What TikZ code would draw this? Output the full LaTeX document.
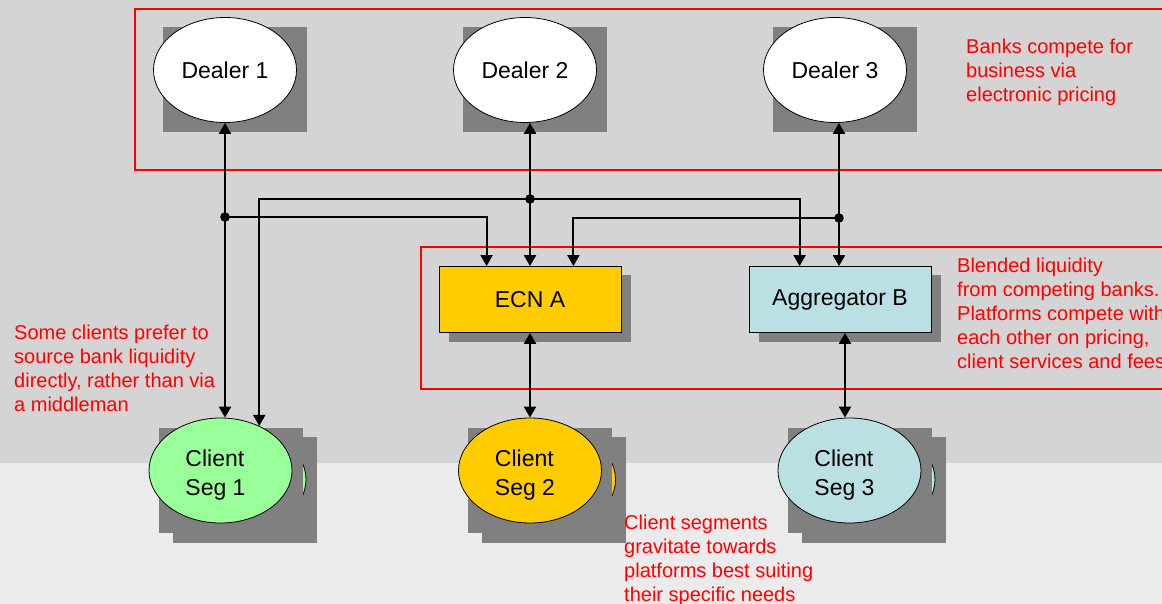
\documentclass[tikz,border=0pt]{standalone}
\usepackage{fontspec}
\setmainfont{Liberation Sans}
\usetikzlibrary{arrows.meta,shapes.geometric,calc}
\definecolor{bgtop}{HTML}{D4D4D4}
\definecolor{bgbot}{HTML}{EBEBEB}
\definecolor{shadowgray}{HTML}{808080}
\definecolor{cgreen}{HTML}{99FF99}
\definecolor{cyellow}{HTML}{FFCC00}
\definecolor{cblue}{HTML}{BBE0E3}
\definecolor{notered}{HTML}{FF0000}
\begin{document}
\begin{tikzpicture}[x=1pt,y=-1pt,
  dealer/.style={ellipse,draw=black,line width=0.8pt,fill=white,minimum width=143pt,minimum height=105pt,inner sep=0pt,font=\fontsize{23}{28}\selectfont},
  client/.style={dealer},
  clienttext/.style={align=left,inner sep=0pt,xshift=-5pt,yshift=-5pt,font=\fontsize{23}{29}\selectfont},
  plat/.style={rectangle,draw=black,line width=0.8pt,minimum width=182pt,minimum height=66pt,inner sep=0pt,font=\fontsize{23}{28}\selectfont},
  shadowbox/.style={fill=shadowgray},
  redbox/.style={draw=notered,line width=1.2pt},
  note/.style={text=notered,align=left,anchor=north west,inner sep=0pt,font=\fontsize{20}{24}\selectfont},
  bidir/.style={line width=2.2pt,{Triangle[width=12pt,length=11pt]}-{Triangle[width=12pt,length=11pt]}},
  uni/.style={line width=2pt,-{Triangle[width=12pt,length=11pt]}},
  backell/.style={draw=black,line width=0.8pt}
]
\useasboundingbox (0,0) rectangle (1162,604);
\clip (0,0) rectangle (1162,604);
% background
\fill[bgbot] (0,0) rectangle (1162,604);
\fill[bgtop] (0,0) rectangle (1162,462.5);
% red grouping boxes
\draw[redbox] (135,9) rectangle (1180,170);
\draw[redbox] (421,247) rectangle (1180,389);
% shadows of dealers
\foreach \cx in {225,525,835} {
  \fill[shadowbox] (\cx-62,27.5) rectangle (\cx+82,132.5);
}
% shadows of platforms
\fill[shadowbox] (449,275) rectangle (631,342);
\fill[shadowbox] (759,275) rectangle (941,342);
% client stacks
\foreach \cx/\col in {220.5/cgreen,530/cyellow,849.5/cblue} {
  \fill[shadowbox] (\cx-48,437) rectangle (\cx+96,543);
  \draw[backell,fill=\col] (\cx+14,479.5) ellipse [x radius=71.5,y radius=52.5];
  \fill[shadowbox] (\cx-62,428) rectangle (\cx+82,533);
}
% nodes
\node[dealer] (d1) at (225,70) {Dealer 1};
\node[dealer] (d2) at (525,70) {Dealer 2};
\node[dealer] (d3) at (835,70) {Dealer 3};
\node[plat,fill=cyellow] (ecn) at (530,299.5) {ECN A};
\node[plat,fill=cblue] (agg) at (840,299.5) {Aggregator B};
\node[client,fill=cgreen,label={[clienttext]center:{Client\\Seg 1}}] (c1) at (220.5,470.5) {};
\node[client,fill=cyellow,label={[clienttext]center:{Client\\Seg 2}}] (c2) at (530,470.5) {};
\node[client,fill=cblue,label={[clienttext]center:{Client\\Seg 3}}] (c3) at (849.5,470.5) {};
% notes
\node[note] (n1) at (966,39) {Banks compete for\\business via\\electronic pricing};
\node[note] (n2) at (957,258) {Blended liquidity\\from competing banks.\\Platforms compete with\\each other on pricing,\\client services and fees};
\node[note] (n3) at (14,325) {Some clients prefer to\\source bank liquidity\\directly, rather than via\\a middleman};
\node[note] (n4) at (624,515) {Client segments\\gravitate towards\\platforms best suiting\\their specific needs};
% main vertical links
\draw[bidir] (d1.south) -- (d1.south |- c1.north);
\draw[bidir] (d2.south -| ecn.north) -- (ecn.north);
\coordinate (a3top) at ($(agg.north)+(-1,0)$);
\draw[bidir] (d3.south -| a3top) -- (a3top);
\draw[bidir] (ecn.south) -- (c2.north);
\coordinate (a3) at ($(agg.south)+(5,0)$);
\draw[bidir] (a3) -- (a3 |- c3.north);
% junctions
\coordinate (j1) at (d1.south |- 0,217);
\coordinate (j2) at (ecn.north |- 0,199);
\coordinate (j3) at (a3top |- 0,218);
\draw[uni] (j1) -| ($(ecn.north west)+(48,0)$);
\draw[uni] (j2) -| (c1.49.5);
\draw[uni] (j2) -| ($(agg.north west)+(51,0)$);
\draw[uni] (j3) -| ($(ecn.north east)+(-48,0)$);
\fill (j1) circle (4.8);
\fill (j2) circle (4.8);
\fill (j3) circle (4.8);
\end{tikzpicture}
\end{document}
